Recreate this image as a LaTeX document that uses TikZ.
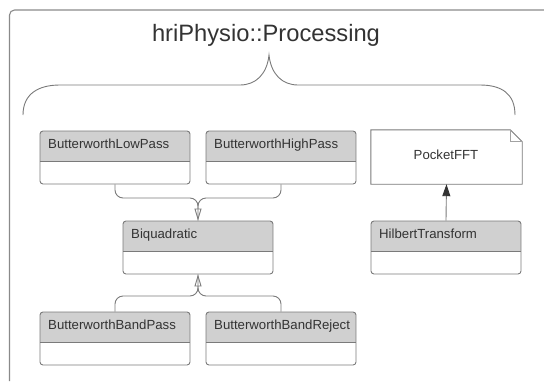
\documentclass[tikz,border=0pt]{standalone}
\usepackage{fontspec}
\setmainfont{Liberation Sans}
\usetikzlibrary{arrows.meta,calc}

\definecolor{txt}{HTML}{333333}
\definecolor{edge}{HTML}{7A7A7A}
\definecolor{hdr}{HTML}{D0D0D0}
\definecolor{framec}{HTML}{8A8A8A}

\tikzset{
  classbox/.style={draw=edge, line width=0.9pt, rounded corners=3pt,
    minimum width=150pt, minimum height=53pt, inner sep=0pt},
  classname/.style={anchor=base west, inner sep=0pt, text=txt,
    font=\fontsize{13.2}{15}\selectfont},
  conn/.style={draw=edge, line width=0.9pt, rounded corners=8pt},
  inherit/.style={-{Triangle[open, length=12pt, width=7pt]}},
  depend/.style={-{Triangle[length=12pt, width=8pt, color=txt]},
    draw=edge, line width=0.9pt},
}

% class box: #1 name, #2 left, #3 top, #4 class name
\newcommand{\umlclass}[4]{%
  \begin{scope}
    \clip[rounded corners=3pt] (#2,#3) rectangle ({#2+150},{#3+53});
    \fill[hdr] (#2,#3) rectangle ({#2+150},{#3+30});
  \end{scope}
  \draw[edge, line width=0.9pt] (#2,{#3+30}) -- ({#2+150},{#3+30});
  \node[classbox] (#1) at ({#2+75},{#3+26.5}) {};
  \node[classname] (#1-label) at ({#2+8},{#3+17}) {#4};
}

\begin{document}
\begin{tikzpicture}[x=1pt, y=-1pt]
  \useasboundingbox (0,0) rectangle (544,381);

  % package frame
  \draw[framec, line width=1.1pt, rounded corners=5pt]
    (9.5,381) -- (9.5,10) -- (544,10);

  % package title
  \node[anchor=base, inner sep=0pt, text=txt,
        font=\fontsize{23.7}{28}\selectfont] (title) at (266,41.5)
    {hriPhysio::Processing};

  % curly brace under the title
  \draw[edge, line width=0.9pt]
    (23,115) .. controls (23,94) and (38,85) .. (60,85)
    -- (240,85) .. controls (256,85) and (267,74) .. (269,55)
    .. controls (271,74) and (282,85) .. (298,85)
    -- (480,85) .. controls (502,85) and (515,94) .. (515,115);

  % classes
  \umlclass{lp}{40}{131}{ButterworthLowPass}
  \umlclass{hp}{206}{131}{ButterworthHighPass}
  \umlclass{bq}{123}{221}{Biquadratic}
  \umlclass{bp}{40}{312}{ButterworthBandPass}
  \umlclass{br}{206}{312}{ButterworthBandReject}
  \umlclass{ht}{371}{221}{HilbertTransform}

  % PocketFFT note with folded corner
  \node[minimum width=151pt, minimum height=54pt, inner sep=0pt] (fft) at (446.5,157) {};
  \draw[edge, line width=0.9pt]
    (fft.south west) -- (fft.north west) -- ($(fft.north east)+(-12,0)$)
    -- ($(fft.north east)+(0,12)$) -- (fft.south east) -- cycle;
  \draw[edge!70, line width=0.8pt]
    ($(fft.north east)+(-12,0)$) -- ($(fft.north east)+(-12,12)$) -- ($(fft.north east)+(0,12)$);
  \node[anchor=base, inner sep=0pt, text=txt,
        font=\fontsize{13.2}{15}\selectfont] (fft-label) at (446,159) {PocketFFT};

  % generalisation joints
  \coordinate (j1) at (198,198);
  \coordinate (j2) at (198,296);

  \draw[conn] (lp.south) |- (j1) -- (bq.north);
  \draw[conn, inherit] (hp.south) |- (j1) -- (bq.north);
  \draw[conn] (bp.north) |- (j2) -- (bq.south);
  \draw[conn, inherit] (br.north) |- (j2) -- (bq.south);

  % dependency
  \draw[depend] (ht.north) -- (fft.south);
\end{tikzpicture}
\end{document}
